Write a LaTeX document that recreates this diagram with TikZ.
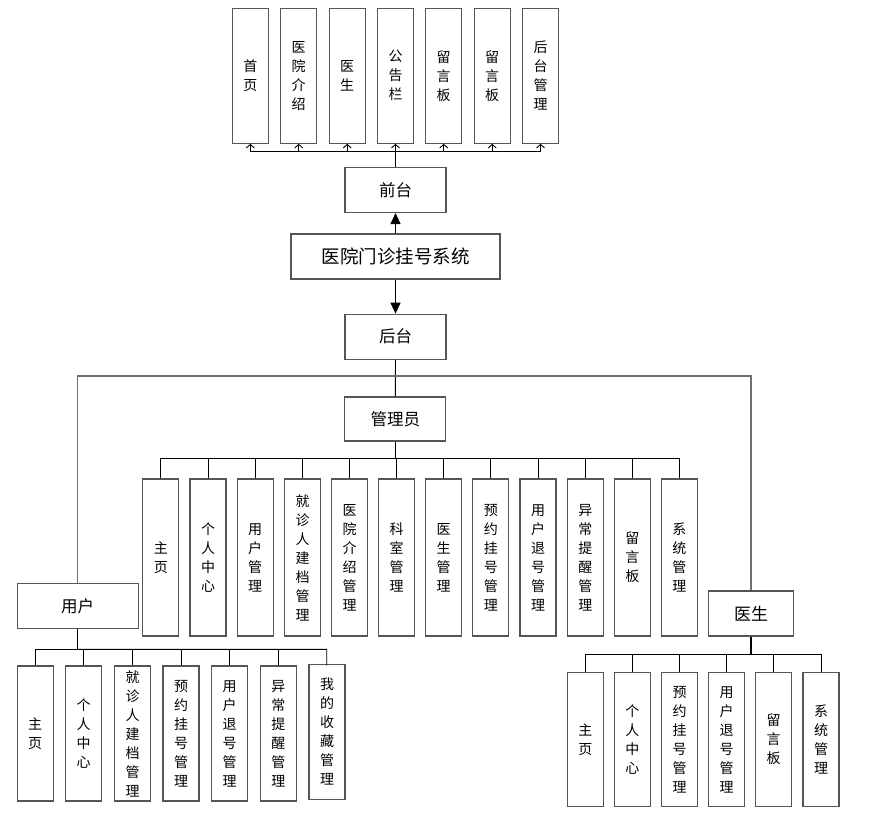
\documentclass[tikz,border=0pt]{standalone}
\usepackage{fontspec}
\setmainfont{Noto Sans CJK SC}
\usetikzlibrary{arrows.meta}
\definecolor{boxgray}{HTML}{555555}
\definecolor{linegray}{HTML}{707070}
\begin{document}
\begin{tikzpicture}[x=1pt,y=-1pt,
  box/.style={draw=boxgray, line width=1.1pt, fill=white, inner sep=0pt, align=center},
  vbox/.style={box, minimum width=36pt, font=\fontsize{14}{19}\selectfont},
  hbox/.style={box, minimum height=45pt, font=\fontsize{16.5}{19}\selectfont},
  conn/.style={draw=black, line width=0.9pt},
  openarr/.style={conn, -{Straight Barb[length=3.5pt,width=8pt]}},
  solidarr/.style={conn, line width=1.2pt, -{Triangle[length=11pt,width=10pt]}}]
\useasboundingbox (0,0) rectangle (888,824);

% top row
\foreach \n/\x/\t in {t1/250.3/{首\\页}, t2/298.7/{医\\院\\介\\绍}, t3/347.2/{医\\生},
  t4/395.5/{公\\告\\栏}, t5/443.7/{留\\言\\板}, t6/492.2/{留\\言\\板}, t7/540.5/{后\\台\\管\\理}}
  \node[vbox, minimum height=135pt] (\n) at (\x,75.8) {\t};

\node[hbox, minimum width=101pt] (qt) at (395.5,190) {前台};
\node[hbox, minimum width=209pt, font=\fontsize{18.5}{20}\selectfont] (sys) at (395.5,256.5) {医院门诊挂号系统};
\node[hbox, minimum width=101pt] (ht) at (395.5,336.7) {后台};
\node[hbox, minimum width=101pt, minimum height=44pt] (gly) at (395.3,419) {管理员};
\node[hbox, minimum width=121pt] (yh) at (77.7,606) {用户};
\node[hbox, minimum width=85pt, font=\fontsize{17}{19}\selectfont] (ys) at (751,613.5) {医生};

% admin children
\foreach \n/\x/\t in {a1/160.8/{主\\页}, a2/208/{个\\人\\中\\心}, a3/255.2/{用\\户\\管\\理},
  a4/302.5/{就\\诊\\人\\建\\档\\管\\理}, a5/349.5/{医\\院\\介\\绍\\管\\理}, a6/396.7/{科\\室\\管\\理},
  a7/443.7/{医\\生\\管\\理}, a8/490.8/{预\\约\\挂\\号\\管\\理}, a9/538/{用\\户\\退\\号\\管\\理},
  a10/585.3/{异\\常\\提\\醒\\管\\理}, a11/632.3/{留\\言\\板}, a12/679.3/{系\\统\\管\\理}}
  \node[vbox, minimum height=157pt] (\n) at (\x,557.5) {\t};

% user children
\foreach \n/\x/\t in {u1/35.2/{主\\页}, u2/83.7/{个\\人\\中\\心}, u3/132.5/{就\\诊\\人\\建\\档\\管\\理},
  u4/181/{预\\约\\挂\\号\\管\\理}, u5/229.7/{用\\户\\退\\号\\管\\理}, u6/278.3/{异\\常\\提\\醒\\管\\理}}
  \node[vbox, minimum height=135pt] (\n) at (\x,733.5) {\t};
\node[vbox, minimum height=135pt] (u7) at (327,731.8) {我\\的\\收\\藏\\管\\理};

% doctor children
\foreach \n/\x/\t in {d1/585.3/{主\\页}, d2/632.3/{个\\人\\中\\心}, d3/679.7/{预\\约\\挂\\号\\管\\理},
  d4/726.7/{用\\户\\退\\号\\管\\理}, d5/773.7/{留\\言\\板}, d6/821/{系\\统\\管\\理}}
  \node[vbox, minimum height=134.4pt] (\n) at (\x,739.5) {\t};

% connectors: top
\coordinate (tb) at (395.5,151.7);
\draw[conn] (qt.north) -- (tb);
\foreach \n in {t1,t2,t3,t4,t5,t6,t7}
  \draw[openarr] (tb) -| (\n.south);
\draw[solidarr] (sys.north) -- (qt.south);
\draw[solidarr] (sys.south) -- (ht.south |- ht.north);

% backstage
\coordinate (hb) at (395.5,376);
\draw[conn] (ht.south) -- (gly.north);
\draw[conn, draw=linegray, line width=1.1pt] (hb) -| (yh.north);
\draw[conn, draw=linegray, line width=1.1pt] (hb) -| (ys.north);

% admin bus
\coordinate (ab) at (396.7,458.7);
\draw[conn] (gly.south) -- (gly.south |- ab);
\foreach \n in {a1,a2,a3,a4,a5,a6,a7,a8,a9,a10,a11,a12}
  \draw[conn] (ab) -| (\n.north);

% user bus
\coordinate (ub) at (77.7,649.3);
\draw[conn, line width=1.2pt] (yh.south) -- (ub);
\foreach \n in {u1,u2,u3,u4,u5,u6}
  \draw[conn] (ub) -| (\n.north);
\draw[conn] (ub) -| (326.7,664.3) -- (u7.north);

% doctor bus
\coordinate (db) at (751,654.7);
\draw[conn, line width=1.6pt] (ys.south) -- (db);
\foreach \n in {d1,d2,d3,d4,d5,d6}
  \draw[conn] (db) -| (\n.north);
\end{tikzpicture}
\end{document}
